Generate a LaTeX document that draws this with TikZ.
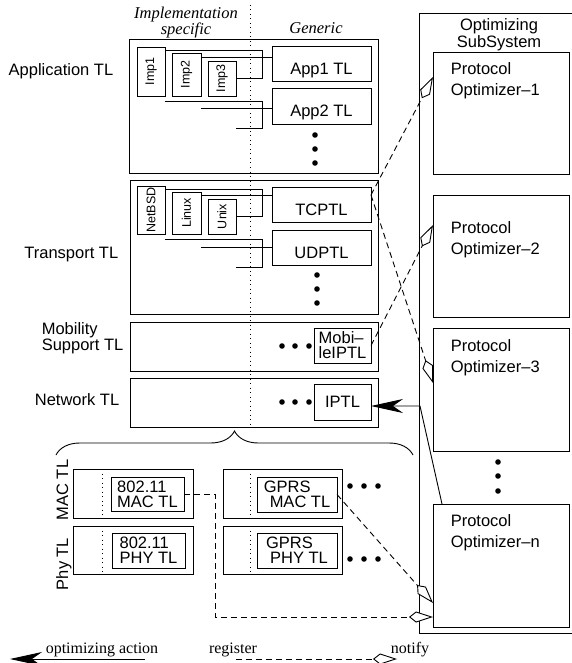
\documentclass[tikz,border=0pt]{standalone}
\usepackage{fontspec}
\setmainfont{Liberation Serif}
\setsansfont{Liberation Sans}
\usetikzlibrary{arrows.meta,decorations.pathreplacing}

\begin{document}
\begin{tikzpicture}[x=1pt, y=-1pt, line width=0.9pt,
    font=\sffamily\fontsize{16.5}{15}\selectfont,
    box/.style={draw, inner sep=0pt, outer sep=0pt, anchor=north west},
    tlbox/.style={box, text height=22pt, text depth=0pt},
    implbox/.style={box, font=\sffamily\fontsize{12.5}{12}\selectfont},
    twoline/.style={box, align=left},
    potext/.style={anchor=base west, align=left, font=\sffamily\fontsize{16.5}{21}\selectfont},
    note/.style={font=\rmfamily\fontsize{16}{16}\selectfont},
    head/.style={font=\rmfamily\itshape\fontsize{16.5}{12}\selectfont, align=center, anchor=base},
    sep/.style={line width=1pt, dash pattern=on 1pt off 3.5pt},
    reg/.style={dash pattern=on 6pt off 4pt, -{Kite[fill=white, length=24pt, width=11pt, inset=7pt]}},
    act/.style={-{Stealth[length=32pt, width=14pt, inset=10pt]}}]
    \useasboundingbox (0,0) rectangle (571,663);
    % The layer boxes.
        \node[box, minimum width=249, minimum height=134] (applayer) at (129,39) {};
        \node[box, minimum width=248, minimum height=134] (translayer) at (130,180) {};
        \node[box, minimum width=248, minimum height=49] (moblayer) at (130,322) {};
        \node[box, minimum width=248, minimum height=49] (netlayer) at (130,378) {};
        \draw[sep] (250,5) -- (250,427);
    % Implementation specific boxes.
        \node[implbox, minimum width=28, minimum height=49] (imp1) at (137,47) {\rotatebox{90}{Imp1}};
        \node[implbox, minimum width=29, minimum height=43] (imp2) at (172,53) {\rotatebox{90}{Imp2}};
        \node[implbox, minimum width=28, minimum height=35] (imp3) at (208,61) {\rotatebox{90}{Imp3}};
        \node[implbox, minimum width=28, minimum height=48] (netbsd) at (137,186) {\rotatebox{90}{NetBSD}};
        \node[implbox, minimum width=29, minimum height=42] (linux) at (172,192) {\rotatebox{90}{Linux}};
        \node[implbox, minimum width=28, minimum height=35] (unix) at (208,199) {\rotatebox{90}{Unix}};
    % Generic boxes.
        \node[tlbox, minimum width=99, minimum height=35] (app1) at (272,46) {App1 TL};
        \node[tlbox, minimum width=99, minimum height=36] (app2) at (272,88) {App2 TL};
        \node[tlbox, minimum width=99, minimum height=35] (tcp) at (272,187) {TCPTL};
        \node[tlbox, minimum width=99, minimum height=35] (udp) at (272,230) {UDPTL};
        \node[twoline, minimum width=57, minimum height=35] (mobile) at (314,328) {Mobi--\\leIPTL};
        \node[box, minimum width=57, minimum height=36] (iptl) at (314,384) {IPTL};
        \fill (315,135) circle (2.8) (315,149) circle (2.8) (315,163) circle (2.8);
        \fill (317,275) circle (2.8) (317,289) circle (2.8) (317,303) circle (2.8);
        \fill (282,346) circle (2.8) (295,346) circle (2.8) (309,346) circle (2.8);
        \fill (282,402) circle (2.8) (295,402) circle (2.8) (309,402) circle (2.8);
    % Wiring from the implementations to the generic part.
        \coordinate (bus) at (262,0);
        \coordinate (t1) at ([yshift=-3]imp1.north east);
        \coordinate (t2) at ([yshift=-4]imp2.north east);
        \coordinate (u1) at ([yshift=-5]imp1.south east);
        \coordinate (u2) at ([yshift=-12]imp2.south east);
        \coordinate (u3) at ([yshift=-32]imp3.south east);
        \draw (t1) -| (bus |- imp3.east) -- (imp3.east);
        \draw (t2) -- (t2 -| app1.west);
        \draw (u1) -| (bus |- u3) -- (u3);
        \draw (u2) -- (u2 -| app2.west);
        \coordinate (v1) at ([yshift=-3]netbsd.north east);
        \coordinate (v2) at ([yshift=-3]linux.north east);
        \coordinate (w1) at ([yshift=-5]netbsd.south east);
        \coordinate (w2) at ([yshift=-13]linux.south east);
        \coordinate (w3) at ([yshift=-33]unix.south east);
        \draw (v1) -| (bus |- unix.east) -- (unix.east);
        \draw (v2) -- (v2 -| tcp.west);
        \draw (w1) -| (bus |- w3) -- (w3);
        \draw (w2) -- (w2 -| udp.west);
    % MAC and PHY boxes under the brace.
        \draw[decorate, decoration={brace, amplitude=24pt}] (56,455) -- (413,455);
        \node[box, minimum width=120, minimum height=49] (macA) at (73,469) {};
        \node[box, minimum width=120, minimum height=48] (phyA) at (73,526) {};
        \node[box, minimum width=119, minimum height=49] (macB) at (223,469) {};
        \node[box, minimum width=119, minimum height=48] (phyB) at (223,526) {};
        \draw[sep] (102,469) -- (102,518) (102,526) -- (102,574);
        \draw[sep] (250,469) -- (250,518) (250,526) -- (250,574);
        \node[twoline, minimum width=73, minimum height=34] (macAin) at (111,477) {802.11\\MAC TL};
        \node[twoline, minimum width=73, minimum height=35] (phyAin) at (112,533) {802.11\\PHY TL};
        \node[twoline, minimum width=80, minimum height=35] (macBin) at (257,477) {GPRS\\\hspace*{6pt}MAC TL};
        \node[twoline, minimum width=80, minimum height=35] (phyBin) at (257,533) {GPRS\\\hspace*{4pt}PHY TL};
        \fill (350,486) circle (2.8) (364,486) circle (2.8) (378,486) circle (2.8);
        \fill (350,559) circle (2.8) (364,559) circle (2.8) (378,559) circle (2.8);
    % The optimizing subsystem.
        \node[box, minimum width=154, minimum height=620] (optsys) at (419,13) {};
        \node[box, minimum width=136, minimum height=122] (po1) at (433,52) {};
        \node[box, minimum width=136, minimum height=122] (po2) at (433,195) {};
        \node[box, minimum width=136, minimum height=123] (po3) at (433,328) {};
        \node[box, minimum width=136, minimum height=123] (pon) at (433,504) {};
        \fill (498,462) circle (2.8) (498,476) circle (2.8) (498,491) circle (2.8);
    % Below nodes are the labels (base is the last line).
        \node[anchor=base, align=center, font=\sffamily\fontsize{16.5}{17}\selectfont] (optlbl) at (499,48) {Optimizing\\SubSystem};
        \node[potext] (po1lbl) at (447,96) {Protocol\\Optimizer--1};
        \node[potext] (po2lbl) at (447,254) {Protocol\\Optimizer--2};
        \node[potext] (po3lbl) at (447,372) {Protocol\\Optimizer--3};
        \node[potext] (ponlbl) at (447,547) {Protocol\\Optimizer--n};
        \node[head] (impllbl) at (186,35) {Implementation\\specific};
        \node[head] (genlbl) at (316,34) {Generic};
        \node[anchor=base east] (applbl) at (117,76) {Application TL};
        \node[anchor=base east] (translbl) at (122,258) {Transport TL};
        \node[anchor=base west, align=left, font=\sffamily\fontsize{16.5}{14}\selectfont] (moblbl) at (38,350) {Mobility\\Support TL};
        \node[anchor=base east] (netlbl) at (123,405) {Network TL};
        \node[anchor=base, rotate=90] (maclbl) at (68,490) {MAC TL};
        \node[anchor=base, rotate=90] (phylbl) at (68,564) {Phy TL};
    % Register and optimizing arrows.
        \draw[reg] ([yshift=-8]tcp.north east) -- ([yshift=-25]po1.north west);
        \draw[reg] ([yshift=-8]tcp.north east) -- ([yshift=-55]po3.north west);
        \draw[reg] (mobile.east) -- ([yshift=-30]po2.north west);
        \draw[reg] (macBin.east) -- ([yshift=24]pon.south west);
        \coordinate (regturn) at (215,617);
        \draw[reg] (macAin.east) -| (regturn) -- ([yshift=10]pon.south west);
        \coordinate (turn) at (420,406);
        \draw[act] ([xshift=9]pon.north west) -- (turn) -- (turn -| iptl.east);
    % The legend.
        \node[note, anchor=base] (actlbl) at (102,653) {optimizing action};
        \node[note, anchor=base] (reglbl) at (233,653) {register};
        \node[note, anchor=base] (notlbl) at (410,653) {notify};
        \coordinate (actA) at (145,659);
        \coordinate (actB) at (10,659);
        \coordinate (regA) at (236,659);
        \coordinate (regB) at (397,659);
        \draw[act] (actA) -- (actB);
        \draw[reg] (regA) -- (regB);
\end{tikzpicture}
\end{document}
